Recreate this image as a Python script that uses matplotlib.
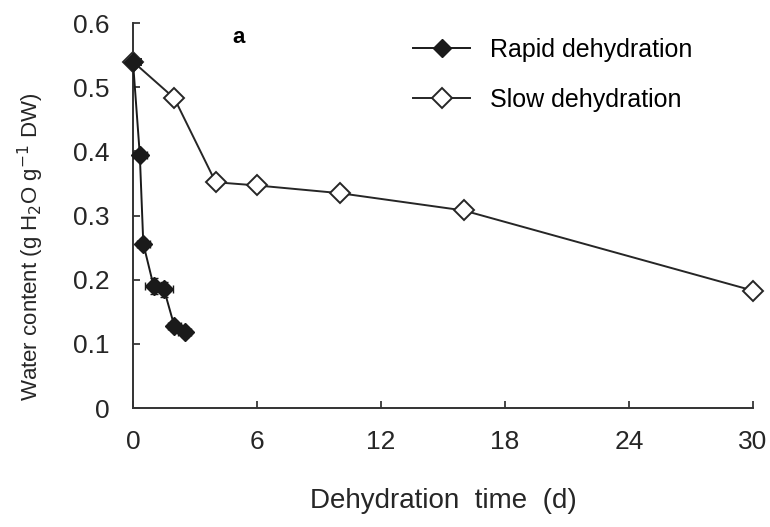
import numpy as np
import matplotlib

matplotlib.use("Agg")
import matplotlib.pyplot as plt

matplotlib.rcParams["font.family"] = ["Liberation Sans", "DejaVu Sans"]

# data
rapid_t = [0, 0.33, 0.5, 1.0, 1.5, 2.0, 2.5]
rapid_wc = [0.54, 0.395, 0.256, 0.19, 0.185, 0.128, 0.118]
rapid_xerr = [0.0, 0.35, 0.3, 0.4, 0.45, 0.3, 0.3]
rapid_yerr = [0.0, 0.008, 0.008, 0.012, 0.012, 0.008, 0.008]

slow_t = [0, 2, 4, 6, 10, 16, 30]
slow_wc = [0.54, 0.483, 0.352, 0.347, 0.335, 0.308, 0.183]
slow_xerr = [0.4, 0, 0, 0, 0, 0, 0]

x_ticks = [0, 6, 12, 18, 24, 30]
y_ticks = [0, 0.1, 0.2, 0.3, 0.4, 0.5, 0.6]

fig = plt.figure(figsize=(7.7, 5.27), dpi=100)
ax = fig.add_axes([0.1727, 0.2258, 0.8053, 0.7302])

slow = ax.errorbar(slow_t, slow_wc, xerr=slow_xerr, color="0.15", lw=1.4,
                   marker="D", ms=10, mfc="white", mec="0.15", mew=1.4,
                   capsize=3, elinewidth=1.2, zorder=2)
rapid = ax.errorbar(rapid_t, rapid_wc, xerr=rapid_xerr, yerr=rapid_yerr,
                    color="0.1", lw=1.4, marker="D", ms=9, mfc="0.1",
                    mec="0.1", capsize=3, elinewidth=1.2, zorder=3)
for c in (slow, rapid):
    c.lines[0].set_clip_on(False)

ax.set_xlim(0, 30)
ax.set_ylim(0, 0.6)
ax.set_xticks(x_ticks)
ax.set_yticks(y_ticks)
ax.set_yticklabels(["0" if v == 0 else f"{v:.1f}" for v in y_ticks])
ax.tick_params(direction="in", length=5, width=1.2, labelsize=19,
               colors="0.15")
ax.tick_params(axis="y", pad=17)
ax.tick_params(axis="x", pad=16)
for s in ("top", "right"):
    ax.spines[s].set_visible(False)
for s in ("left", "bottom"):
    ax.spines[s].set_linewidth(1.4)
    ax.spines[s].set_color("0.2")

ax.set_xlabel("Dehydration  time  (d)", fontsize=20, labelpad=24, color="0.15")
ax.set_ylabel(r"Water content (g H$_2$O g$^{-1}$ DW)", fontsize=16,
              color="0.15")
ax.yaxis.set_label_coords(-0.14, 0.42)
ax.text(5.1, 0.577, "a", fontsize=16, fontweight="bold", ha="center",
        va="center")

ax.legend([rapid.lines[0], slow.lines[0]],
          ["Rapid dehydration", "Slow dehydration"],
          loc="upper left", bbox_to_anchor=(0.415, 1.02),
          frameon=False, fontsize=18, handlelength=2.3,
          labelspacing=1.05, handletextpad=0.8)

fig.savefig("out.png", dpi=100)
